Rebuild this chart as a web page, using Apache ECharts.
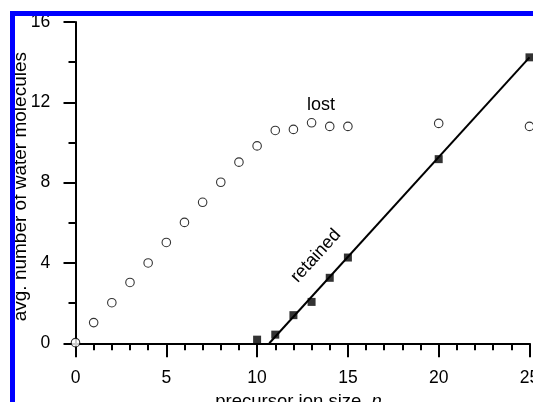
<!DOCTYPE html>
<html><head><meta charset="utf-8">
<script src="https://cdn.jsdelivr.net/npm/echarts@6/dist/echarts.min.js"></script>
<style>html,body{margin:0;padding:0;background:#fff}#c{width:533px;height:402px}</style>
</head><body><div id="c"></div>
<script>
const lostN = [0,1,2,3,4,5,6,7,8,9,10,11,12,13,14,15,20,25];
const lostVal = [0.03,1.03,2.02,3.03,4.0,5.02,6.02,7.02,8.02,9.02,9.83,10.6,10.65,10.98,10.8,10.8,10.95,10.8];
const retainedN = [10,11,12,13,14,15,20,25];
const retainedVal = [0.18,0.43,1.4,2.06,3.26,4.27,9.17,14.24];
const fitN = [10.67,25];
const fitVal = [0,14.24];
const xMinorTicks = [0,1,2,3,4,5,6,7,8,9,10,11,12,13,14,15,16,17,18,19,20,21,22,23,24,25];
const xMajorTicks = [0,5,10,15,20,25];
const yMinorTicks = [0,2,4,6,8,10,12,14,16];
const yMajorTicks = [0,4,8,12,16];
const xTitle = 'precursor ion size, ';
const yTitle = 'avg. number of water molecules';

const FONT = '"Liberation Sans", Arial, Helvetica, sans-serif';
const chart = echarts.init(document.getElementById('c'), null, {renderer:'canvas'});
const X_MIN = -0.43, X_MAX = 25, Y_MIN = -0.4, Y_MAX = 16;
const lineStyle = {color:'#000', width:2};
function zip(a,b){return a.map((v,i)=>[v,b[i]]);}
const option = {
  animation:false,
  backgroundColor:'#fff',
  grid:{left:67.7, right:3.5, top:22, bottom:50.7, containLabel:false, outerBoundsMode:'none'},
  xAxis:[
    {type:'value', min:X_MIN, max:X_MAX, position:'bottom',
     axisLine:{show:true, lineStyle:lineStyle},
     axisTick:{show:true, customValues:xMinorTicks, length:7, lineStyle:lineStyle},
     axisLabel:{show:false}, splitLine:{show:false}},
    {type:'value', min:X_MIN, max:X_MAX, position:'bottom',
     axisLine:{show:false},
     axisTick:{show:true, customValues:xMajorTicks, length:14, lineStyle:lineStyle},
     axisLabel:{show:true, customValues:xMajorTicks, margin:18, color:'#000', fontSize:17.5, fontFamily:FONT, hideOverlap:false},
     splitLine:{show:false},
     name:'{a|'+xTitle+'}{b|n}', nameLocation:'middle', nameGap:41, nameMoveOverlap:false,
     nameTextStyle:{color:'#000', fontSize:18.5, fontFamily:FONT,
       rich:{a:{fontSize:18.5, fontFamily:FONT, color:'#000'}, b:{fontSize:18.5, fontFamily:FONT, fontStyle:'italic', color:'#000'}}}}
  ],
  yAxis:[
    {type:'value', min:Y_MIN, max:Y_MAX, position:'left',
     axisLine:{show:true, lineStyle:lineStyle},
     axisTick:{show:true, customValues:yMinorTicks, length:7, lineStyle:lineStyle},
     axisLabel:{show:false}, splitLine:{show:false}},
    {type:'value', min:Y_MIN, max:Y_MAX, position:'left',
     axisLine:{show:false},
     axisTick:{show:true, customValues:yMajorTicks, length:12, lineStyle:lineStyle},
     axisLabel:{show:true, customValues:yMajorTicks, margin:17.5, color:'#000', fontSize:17.5, fontFamily:FONT},
     splitLine:{show:false},
     name:yTitle, nameLocation:'middle', nameGap:37, nameMoveOverlap:false,
     nameTextStyle:{color:'#000', fontSize:19, fontFamily:FONT}}
  ],
  series:[
    {type:'line', name:'fit', data:zip(fitN,fitVal), xAxisIndex:0, yAxisIndex:0,
     showSymbol:false, symbol:'none', lineStyle:{color:'#000', width:2}, z:2, silent:true},
    {type:'scatter', name:'retained', data:zip(retainedN,retainedVal), xAxisIndex:0, yAxisIndex:0,
     symbol:'rect', symbolSize:8, itemStyle:{color:'#000'}, z:3},
    {type:'scatter', name:'lost', data:zip(lostN,lostVal), xAxisIndex:0, yAxisIndex:0,
     symbol:'circle', symbolSize:8.5, itemStyle:{color:'#fff', borderColor:'#000', borderWidth:1.1}, z:3}
  ]
};
chart.setOption(option);
const lostPos = chart.convertToPixel({xAxisIndex:0, yAxisIndex:0}, [13.52, 11.87]);
const retPos = chart.convertToPixel({xAxisIndex:0, yAxisIndex:0}, [13.24, 4.35]);
chart.setOption({graphic:[
  {type:'rect', shape:{x:10, y:11, width:523, height:5}, style:{fill:'#0000ff'}, z:100},
  {type:'rect', shape:{x:10, y:11, width:5, height:391}, style:{fill:'#0000ff'}, z:100},
  {type:'text', x:lostPos[0], y:lostPos[1], style:{text:'lost', fontSize:18, fontFamily:FONT, fill:'#000', align:'center', verticalAlign:'middle'}, z:50},
  {type:'text', x:retPos[0], y:retPos[1], rotation:47.8*Math.PI/180, style:{text:'retained', fontSize:18, fontFamily:FONT, fill:'#000', align:'center', verticalAlign:'middle'}, z:50}
]});
</script></body></html>
